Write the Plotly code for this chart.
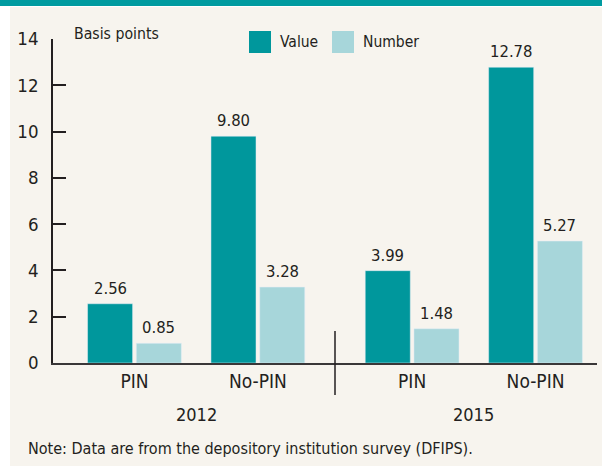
import plotly.graph_objects as go

# ---- data ----
years = ["2012", "2015"]
categories = ["PIN", "No-PIN", "PIN", "No-PIN"]
value_series = [2.56, 9.80, 3.99, 12.78]
number_series = [0.85, 3.28, 1.48, 5.27]
y_ticks = [0, 2, 4, 6, 8, 10, 12, 14]

# ---- styling / layout ----
W, H = 602, 466
ML, MR, MT, MB = 53, 5, 39, 103
PW, PH = W - ML - MR, H - MT - MB
TEAL = "#00979c"
LIGHT = "#a7d6da"
BG = "#f7f4ee"
INK = "#231f20"
FONT = "DejaVu Sans Condensed, Roboto, sans-serif"

# group positions (gap between years)
xpos = [0, 1, 2.25, 3.25]
bw = 0.365
gap = 0.03
off_v = -bw - gap / 2
off_n = gap / 2
x_range = [-0.66, 3.748]

def px_x(px):
    return (px - ML) / PW

def px_y(py):
    return (H - MB - py) / PH

fig = go.Figure()
fig.add_trace(go.Bar(x=xpos, y=value_series, name="Value", marker_color=TEAL,
                     width=bw, offset=off_v, showlegend=False))
fig.add_trace(go.Bar(x=xpos, y=number_series, name="Number", marker_color=LIGHT,
                     width=bw, offset=off_n, showlegend=False))

ann = []
for xi, v, n in zip(xpos, value_series, number_series):
    ann.append(dict(x=xi + off_v + bw / 2, y=v, xref="x", yref="y", text=f"{v:.2f}",
                    showarrow=False, yanchor="bottom", yshift=4,
                    font=dict(size=16.5, color=INK)))
    ann.append(dict(x=xi + off_n + bw / 2, y=n, xref="x", yref="y", text=f"{n:.2f}",
                    showarrow=False, yanchor="bottom", yshift=4,
                    font=dict(size=16.5, color=INK)))

# year labels
for i, yr in enumerate(years):
    xm = (xpos[2 * i] + xpos[2 * i + 1]) / 2
    ann.append(dict(x=xm, y=0, xref="x", yref="paper", text=yr, showarrow=False,
                    yanchor="middle", yshift=-51, font=dict(size=18, color=INK)))

# axis title "Basis points"
ann.append(dict(x=px_x(72), y=14, xref="paper", yref="y", text="Basis points",
                showarrow=False, xanchor="left", yanchor="middle", yshift=6,
                font=dict(size=15.7, color=INK)))

# legend (custom)
shapes = []
leg = [("Value", TEAL, 249), ("Number", LIGHT, 332)]
for name, col, x0 in leg:
    shapes.append(dict(type="rect", xref="paper", yref="paper",
                       x0=px_x(x0), x1=px_x(x0 + 22), y0=px_y(53), y1=px_y(31),
                       fillcolor=col, line=dict(width=0)))
    ann.append(dict(x=px_x(x0 + 29), y=px_y(42), xref="paper", yref="paper", text=name,
                    showarrow=False, xanchor="left", yanchor="middle",
                    font=dict(size=15.5, color=INK)))

# note
ann.append(dict(x=px_x(26), y=px_y(448), xref="paper", yref="paper",
                text="Note: Data are from the depository institution survey (DFIPS).",
                showarrow=False, xanchor="left", yanchor="middle",
                font=dict(size=16, color=INK)))

# background panel and top band
shapes.insert(0, dict(type="rect", xref="paper", yref="paper", layer="below",
                      x0=px_x(10), x1=px_x(W + 2), y0=px_y(H + 2), y1=px_y(7),
                      fillcolor=BG, line=dict(width=0)))
shapes.insert(0, dict(type="rect", xref="paper", yref="paper", layer="below",
                      x0=px_x(-2), x1=px_x(W + 2), y0=px_y(6), y1=px_y(-2),
                      fillcolor="#009ba0", line=dict(width=0)))
# year divider
xd = (xpos[1] + xpos[2]) / 2
shapes.append(dict(type="line", xref="x", yref="paper", x0=xd, x1=xd,
                   y0=px_y(395), y1=px_y(331), line=dict(color=INK, width=1.5)))

fig.update_layout(
    width=W, height=H,
    margin=dict(l=ML, r=MR, t=MT, b=MB, pad=0),
    paper_bgcolor="white", plot_bgcolor="rgba(0,0,0,0)",
    font=dict(family=FONT, color=INK, size=19),
    showlegend=False,
    annotations=ann, shapes=shapes,
    barmode="overlay",
)
fig.update_xaxes(range=x_range, tickvals=xpos, ticktext=categories, showgrid=False,
                 zeroline=False, showline=True, linecolor="#3a3738", linewidth=2,
                 ticks="", tickfont=dict(size=19, color=INK), fixedrange=True)
fig.update_yaxes(range=[0, 14], tickvals=y_ticks, showgrid=False, zeroline=False,
                 showline=True, linecolor=INK, linewidth=1.5, ticks="inside",
                 ticklen=13, tickwidth=1.5, tickcolor=INK, ticklabelstandoff=9,
                 tickfont=dict(size=18.5, color=INK), fixedrange=True)

fig.write_html("out.html", config={"displayModeBar": False},
               post_script="document.body.style.margin='0';document.body.style.padding='0';")
